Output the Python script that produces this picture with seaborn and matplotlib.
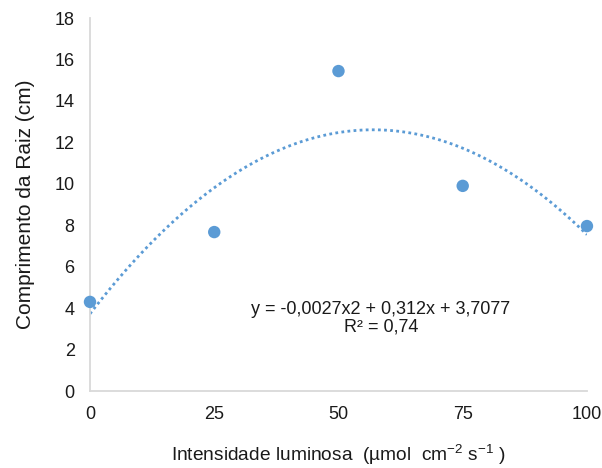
import numpy as np
import pandas as pd
import matplotlib
matplotlib.use("Agg")
import matplotlib.pyplot as plt
import seaborn as sns

# values
intensidade = [0, 25, 50, 75, 100]
comprimento = [4.3, 7.67, 15.44, 9.9, 7.96]
y_ticks = [0, 2, 4, 6, 8, 10, 12, 14, 16, 18]
x_ticks = [0, 25, 50, 75, 100]
equation_text = "y = -0,0027x2 + 0,312x + 3,7077\nR² = 0,74"

sns.set_style("white")
plt.rcParams["font.family"] = ["Liberation Sans", "DejaVu Sans"]
plt.rcParams["mathtext.fontset"] = "custom"
plt.rcParams["mathtext.rm"] = "Liberation Sans"
plt.rcParams["mathtext.default"] = "regular"

df = pd.DataFrame({"x": intensidade, "y": comprimento})
blue = "#5B9BD5"
txt = "#1a1a1a"

fig = plt.figure(figsize=(6.02, 4.68), dpi=100)
ax = fig.add_axes([0.1495, 0.1645, 0.8255, 0.797])

# polynomial trendline (order 2) + points
sns.regplot(data=df, x="x", y="y", order=2, ci=None, ax=ax,
            scatter=False, line_kws={"color": blue, "linestyle": (0, (1, 1.2)),
                                     "linewidth": 2})
sns.scatterplot(data=df, x="x", y="y", ax=ax, color=blue, s=80,
                edgecolor="none", zorder=5, clip_on=False)

ax.set_xlim(0, 100)
ax.set_ylim(0, 18)
ax.set_xticks(x_ticks)
ax.set_yticks(y_ticks)
ax.tick_params(length=0, labelsize=13, colors=txt)
ax.tick_params(axis="y", pad=11)
ax.tick_params(axis="x", pad=11)

for side in ["top", "right"]:
    ax.spines[side].set_visible(False)
for side in ["left", "bottom"]:
    ax.spines[side].set_color("#D9D9D9")
    ax.spines[side].set_linewidth(1.3)

ax.set_ylabel("Comprimento da Raiz (cm)", fontsize=15, color=txt, labelpad=14)
ax.set_xlabel("Intensidade luminosa  (µmol  cm$^{-2}$ s$^{-1}$ )", fontsize=13.8,
              color=txt, labelpad=14)

ax.text(58.5, 3.5, equation_text, ha="center", va="center", fontsize=13,
        color=txt, linespacing=1.05)

fig.savefig("out.png", dpi=100)
